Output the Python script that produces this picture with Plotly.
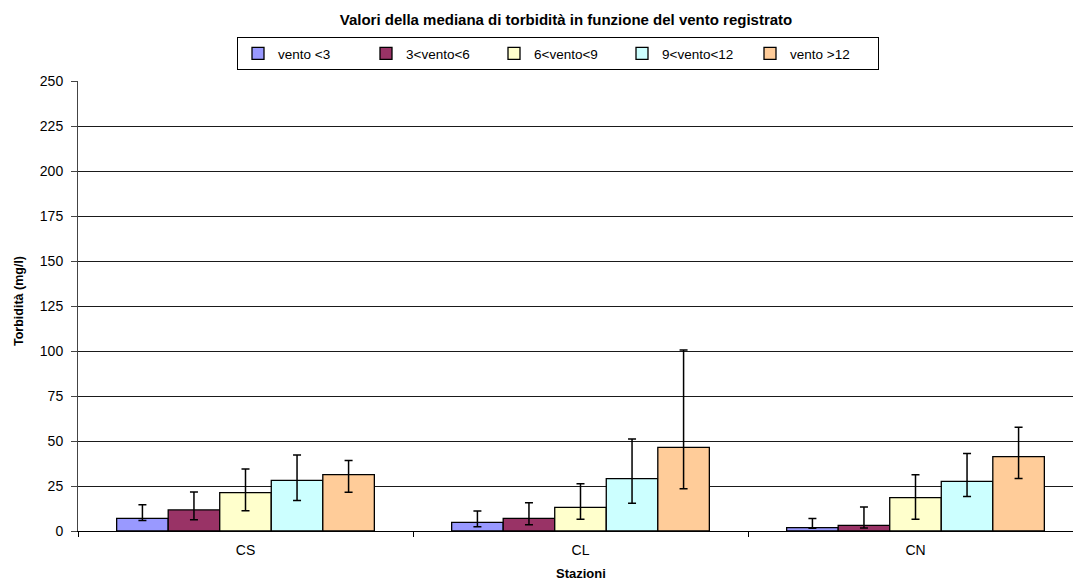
import plotly.graph_objects as go

# Stations on the x axis
stazioni = ["CS", "CL", "CN"]

# Wind classes (one series each)
classi_vento = ["vento <3", "3<vento<6", "6<vento<9", "9<vento<12", "vento >12"]
colori = ["#9999FF", "#993366", "#FFFFCC", "#CCFFFF", "#FFCC99"]

# Median turbidity (mg/l) per wind class, ordered CS, CL, CN
mediana_v3 = [7.0, 4.8, 1.9]
mediana_v3_6 = [11.7, 7.0, 3.1]
mediana_v6_9 = [21.3, 13.1, 18.5]
mediana_v9_12 = [28.1, 29.1, 27.6]
mediana_v12 = [31.3, 46.5, 41.3]

# Upper bound of the error bars (mg/l)
sup_v3 = [14.6, 11.1, 7.0]
sup_v3_6 = [21.7, 15.7, 13.3]
sup_v6_9 = [34.4, 26.3, 31.3]
sup_v9_12 = [42.2, 51.1, 43.1]
sup_v12 = [39.1, 100.6, 57.6]

# Lower bound of the error bars (mg/l)
inf_v3 = [5.9, 2.4, 1.5]
inf_v3_6 = [6.3, 3.5, 1.7]
inf_v6_9 = [11.3, 6.5, 6.5]
inf_v9_12 = [16.9, 15.4, 19.1]
inf_v12 = [21.5, 23.5, 29.1]

mediane = [mediana_v3, mediana_v3_6, mediana_v6_9, mediana_v9_12, mediana_v12]
superiori = [sup_v3, sup_v3_6, sup_v6_9, sup_v9_12, sup_v12]
inferiori = [inf_v3, inf_v3_6, inf_v6_9, inf_v9_12, inf_v12]

FONT = "Arial, Liberation Sans, sans-serif"

fig = go.Figure()
for nome, col, med, sup, inf in zip(classi_vento, colori, mediane, superiori, inferiori):
    fig.add_trace(go.Bar(
        name=nome,
        x=stazioni,
        y=med,
        marker=dict(color=col, line=dict(color="#000000", width=1.3)),
        error_y=dict(
            type="data",
            symmetric=False,
            array=[s - m for s, m in zip(sup, med)],
            arrayminus=[m - i for m, i in zip(med, inf)],
            color="#000000",
            thickness=1.5,
            width=4,
        ),
    ))

W, H = 1073, 583
L, R, T, B = 78, 0, 81, 52
cat_px = 335  # width of one station slot in pixels
plot_w = W - L - R
plot_h = H - T - B

fig.update_layout(
    width=W,
    height=H,
    margin=dict(l=L, r=R, t=T, b=B),
    paper_bgcolor="white",
    plot_bgcolor="white",
    barmode="group",
    bargap=1.5 / 6.5,
    bargroupgap=0,
    font=dict(family=FONT, size=14, color="#000000"),
    title=dict(
        text="<b>Valori della mediana di torbidità in funzione del vento registrato</b>",
        font=dict(family=FONT, size=15, color="#000000"),
        xref="paper", x=(566 - L) / plot_w, xanchor="center",
        yref="container", y=1 - 20 / H, yanchor="middle",
    ),
    legend=dict(
        orientation="h",
        xref="paper", x=(558 - L) / plot_w, xanchor="center",
        yref="paper", y=(H - B - 37) / plot_h, yanchor="top",
        bordercolor="#000000", borderwidth=1,
        bgcolor="white",
        font=dict(family=FONT, size=13.5, color="#000000"),
        entrywidth=83, entrywidthmode="pixels",
        traceorder="normal",
    ),
    showlegend=True,
)

fig.update_xaxes(
    range=[-0.5, -0.5 + plot_w / cat_px],
    showline=True, linecolor="#000000", linewidth=1,
    ticks="outside", tickson="boundaries", ticklen=5, tickcolor="#000000",
    ticklabelstandoff=6,
    tickfont=dict(family=FONT, size=14, color="#000000"),
    showgrid=False,
)
fig.update_yaxes(
    range=[0, 250], dtick=25, tick0=0,
    showline=True, linecolor="#444444", linewidth=1,
    ticks="outside", ticklen=6, tickcolor="#444444",
    ticklabelstandoff=5,
    tickfont=dict(family=FONT, size=14, color="#000000"),
    showgrid=True, gridcolor="#1a1a1a", gridwidth=1,
    zeroline=False,
)

# Axis titles
fig.add_annotation(
    text="<b>Torbidità (mg/l)</b>", textangle=-90,
    xref="paper", x=(19 - L) / plot_w, xanchor="center",
    yref="paper", y=(H - B - 301) / plot_h, yanchor="middle",
    showarrow=False, font=dict(family=FONT, size=12.5, color="#000000"),
)
fig.add_annotation(
    text="<b>Stazioni</b>",
    xref="x", x=1,
    yref="paper", y=(H - B - 573) / plot_h, yanchor="middle",
    showarrow=False, font=dict(family=FONT, size=13, color="#000000"),
)

fig.write_html("out.html")
